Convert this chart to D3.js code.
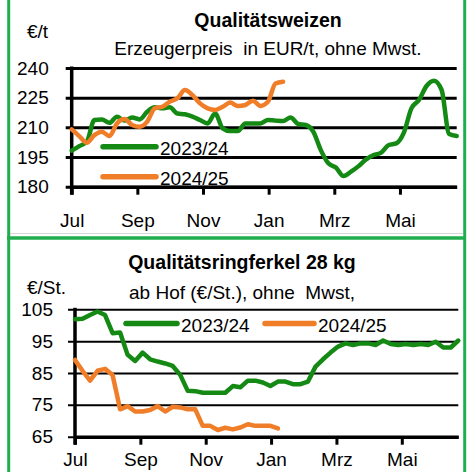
<!DOCTYPE html>
<html>
<head>
<meta charset="utf-8">
<script src="https://cdn.jsdelivr.net/npm/d3@7"></script>
<style>
  html, body { margin: 0; padding: 0; background: #fff; }
  svg { display: block; font-family: 'Liberation Sans', Arial, sans-serif; }
  svg text { white-space: pre; }
</style>
</head>
<body>
<div id="chart"></div>
<script>
// weekly values, week 0 = start of July
const monthLabels = ['Jul', 'Sep', 'Nov', 'Jan', 'Mrz', 'Mai'];
const seriesNames = ['2023/24', '2024/25'];

const wheat2324 = [198.2, 200.5, 202.7, 213.7, 214, 212.3, 215.4, 213.4, 215, 214,
  217.9, 220.1, 219.6, 220.1, 217, 216.6, 215.4, 213.7, 212, 217,
  209.5, 208.1, 208.1, 212, 212, 212, 213.7, 213.4, 213.2, 215,
  211.7, 211.2, 207.8, 198.5, 191.8, 189.7, 185.4, 187.6, 190.4, 193.8,
  196, 197.2, 201.1, 201.9, 207.3, 219.6, 223.8, 230.9, 233.6, 228.9,
  206.6, 205.6];
const wheat2425 = [209, 205.6, 202.2, 206.1, 207.8, 205.6, 212, 214.2, 211.2, 210.3,
  212.9, 219.6, 220.4, 223, 224.7, 228.9, 226.3, 222.1, 219.6, 218.8,
  220.4, 222.5, 220.8, 221.3, 223.5, 220.8, 223, 232.2, 233.1];
const wheatTicks = [240, 225, 210, 195, 180];

const piglet2324 = [101.9, 102, 103.2, 104.3, 103.2, 97.5, 97.7, 90.7, 88.8, 91.4,
  89.3, 88.6, 88, 87.2, 84.4, 79.4, 79.3, 78.8, 78.8, 78.8,
  78.8, 80.9, 80.5, 82.6, 82.6, 82, 80.9, 82.3, 82.3, 81.5,
  81.5, 82.3, 87, 89.3, 91.4, 93.3, 94.3, 93.8, 94.3, 94.3,
  93.8, 95.2, 94.1, 93.8, 94.1, 93.8, 94.1, 93.8, 94.8, 93,
  93, 95.2];
const piglet2425 = [89.1, 85.7, 82.6, 85.7, 86.3, 84.4, 73.6, 74.6, 72.9, 72.9,
  73.4, 74.6, 72.9, 74.4, 74.2, 73.6, 73.6, 68.4, 68.4, 67.1,
  67.8, 67.3, 67.9, 68.9, 68.4, 68.4, 68.4, 67.6];
const pigletTicks = [105, 95, 85, 75, 65];

const GREEN = '#148a14';
const ORANGE = '#f07d28';
const FRAME = '#20ad4e';
const weeksPerMonth = 365.25 / 7 / 12;

const width = 469, height = 472;
const svg = d3.select('#chart').append('svg')
  .attr('width', width)
  .attr('height', height);

const drawPanel = (cfg) => {
  const g = svg.append('g');
  const x = d3.scaleLinear().domain([0, 51]).range([cfg.left, cfg.right]);
  const y = d3.scaleLinear().domain([cfg.ticks[cfg.ticks.length - 1], cfg.ticks[0]]).range([cfg.bottom, cfg.top]);

  // gridlines + y labels
  const yAxis = g.append('g')
    .attr('transform', `translate(${cfg.right},0)`)
    .call(d3.axisLeft(y).tickValues(cfg.ticks).tickSize(cfg.right - cfg.left + cfg.tickOut).tickPadding(cfg.labelPad));
  yAxis.select('.domain').remove();
  yAxis.selectAll('line').attr('stroke', '#000').attr('stroke-width', cfg.gridWidth);
  yAxis.selectAll('text').attr('font-size', 19).attr('fill', '#000')
    .attr('font-family', 'Liberation Sans, Arial, sans-serif');

  // x axis
  const xAxis = g.append('g')
    .attr('transform', `translate(0,${cfg.bottom})`)
    .call(d3.axisBottom(x)
      .tickValues(monthLabels.map((m, i) => i * 2 * weeksPerMonth))
      .tickFormat((d, i) => monthLabels[i])
      .tickSize(8).tickSizeOuter(0));
  xAxis.select('.domain').attr('stroke', '#000').attr('stroke-width', 3.5);
  xAxis.selectAll('line').attr('stroke', '#000').attr('stroke-width', 3);
  xAxis.selectAll('text').attr('font-size', 19).attr('fill', '#000')
    .attr('font-family', 'Liberation Sans, Arial, sans-serif')
    .attr('y', cfg.xLabelY).attr('dy', 0);

  // vertical axis line
  g.append('line')
    .attr('x1', cfg.left).attr('x2', cfg.left)
    .attr('y1', cfg.top - 1.5).attr('y2', cfg.bottom + 8)
    .attr('stroke', '#000').attr('stroke-width', 3.5);

  const line = d3.line()
    .x((d, i) => x(i))
    .y((d) => y(d))
    .curve(cfg.curve);

  cfg.series.forEach((s) => {
    g.append('path')
      .datum(s.values)
      .attr('d', line)
      .attr('fill', 'none')
      .attr('stroke', s.color)
      .attr('stroke-width', 4.5)
      .attr('stroke-linejoin', 'round')
      .attr('stroke-linecap', 'round');
  });

  // legend
  cfg.legend.forEach((l, i) => {
    g.append('line')
      .attr('x1', l.x).attr('x2', l.x + l.len)
      .attr('y1', l.y).attr('y2', l.y)
      .attr('stroke', cfg.series[i].color)
      .attr('stroke-width', 5.5)
      .attr('stroke-linecap', 'round');
    g.append('text')
      .attr('x', l.x + l.len + 4).attr('y', l.y + 8.5)
      .attr('font-size', 19)
      .text(seriesNames[i]);
  });

  // titles
  g.append('text')
    .attr('x', cfg.titleX).attr('y', cfg.titleY)
    .attr('text-anchor', 'middle')
    .attr('font-size', 19.5).attr('font-weight', 'bold')
    .text(cfg.title);
  g.append('text')
    .attr('x', cfg.titleX).attr('y', cfg.subY)
    .attr('text-anchor', 'middle')
    .attr('font-size', 19)
    .text(cfg.subtitle);
  g.append('text')
    .attr('x', 27).attr('y', cfg.unitY)
    .attr('font-size', 19)
    .text(cfg.unit);
};

drawPanel({
  left: 71.7, right: 456.7, top: 68, bottom: 186.7,
  ticks: wheatTicks, tickOut: 6, labelPad: 17, gridWidth: 3, xLabelY: 40,
  curve: d3.curveMonotoneX,
  series: [{ values: wheat2324, color: GREEN }, { values: wheat2425, color: ORANGE }],
  legend: [{ x: 103, y: 146.7, len: 53 }, { x: 103, y: 176.7, len: 53 }],
  title: 'Qualitätsweizen', subtitle: 'Erzeugerpreis  in EUR/t, ohne Mwst.',
  titleX: 268, titleY: 27, subY: 55, unit: '€/t', unitY: 38
});

drawPanel({
  left: 75, right: 458.3, top: 309.3, bottom: 436.7,
  ticks: pigletTicks, tickOut: 7, labelPad: 15, gridWidth: 2, xLabelY: 29.3,
  curve: d3.curveLinear,
  series: [{ values: piglet2324, color: GREEN }, { values: piglet2425, color: ORANGE }],
  legend: [{ x: 126, y: 323.5, len: 51 }, { x: 265, y: 323.5, len: 49 }],
  title: 'Qualitätsringferkel 28 kg', subtitle: 'ab Hof (€/St.), ohne  Mwst,',
  titleX: 242, titleY: 269, subY: 299, unit: '€/St.', unitY: 294
});

// panel frame
svg.append('line').attr('x1', 10).attr('x2', 463).attr('y1', 233.5).attr('y2', 233.5)
  .attr('stroke', '#d8d8d8').attr('stroke-width', 1);
svg.append('line').attr('x1', 8.7).attr('x2', 8.7).attr('y1', 0).attr('y2', height)
  .attr('stroke', FRAME).attr('stroke-width', 3);
svg.append('line').attr('x1', 464.7).attr('x2', 464.7).attr('y1', 0).attr('y2', height)
  .attr('stroke', FRAME).attr('stroke-width', 3);
svg.append('line').attr('x1', 7).attr('x2', 466).attr('y1', 238).attr('y2', 238)
  .attr('stroke', FRAME).attr('stroke-width', 3.5);
</script>
</body>
</html>
